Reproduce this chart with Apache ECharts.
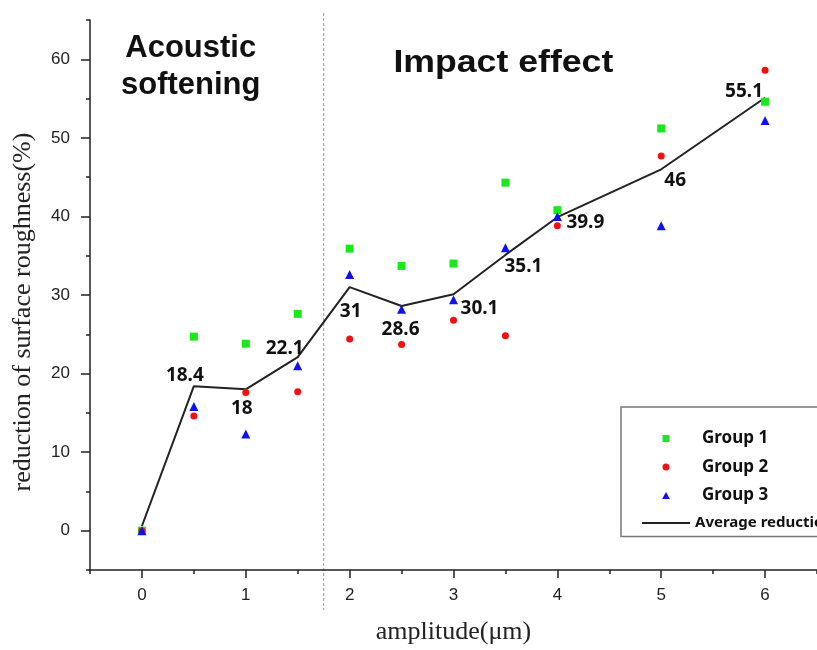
<!DOCTYPE html>
<html>
<head>
<meta charset="utf-8">
<script src="https://cdn.jsdelivr.net/npm/echarts@6/dist/echarts.min.js"></script>
<style>
html, body { margin: 0; padding: 0; background: #fff; }
#chart { width: 817px; height: 650px; }
</style>
</head>
<body>
<div id="chart"></div>
<script>
// amplitude (μm) and reduction of surface roughness (%)
var amplitude = [0, 0.5, 1, 1.5, 2, 2.5, 3, 3.5, 4, 5, 6];
var group1 = [0, 24.7, 23.8, 27.6, 35.9, 33.7, 34.0, 44.3, 40.8, 51.2, 54.6];
var group2 = [0, 14.6, 17.6, 17.7, 24.4, 23.7, 26.8, 24.8, 38.8, 47.7, 58.6];
var group3 = [0, 15.8, 12.3, 21.0, 32.6, 28.2, 29.4, 36.0, 40.0, 38.8, 52.2];
var average = [0.6, 18.4, 18, 22.1, 31, 28.6, 30.1, 35.1, 39.9, 46, 55.1];

var xTicks = [0, 1, 2, 3, 4, 5, 6];
var yTicks = [0, 10, 20, 30, 40, 50, 60];
var regionSplit = 1.75;   // dashed divider between the two regimes

// where each average label sits relative to its point (px)
var avgLabelOffset = [[0, 0], [-9, -11], [-4, 19], [-13, -8], [1, 24], [-1, 24],
                      [26, 14], [18, 12], [28, 5], [14, 11], [-21, -6]];

function pairs(ys) {
    return amplitude.map(function (x, i) { return [x, ys[i]]; });
}

var axisColor = '#222';
var tickFont = { fontFamily: 'Liberation Sans', fontSize: 17, color: '#222' };
var nameFont = { fontFamily: 'Liberation Serif', fontSize: 26, color: '#222' };
var boldFont = 'Noto Sans';

var avgData = amplitude.map(function (x, i) {
    return {
        value: [x, average[i]],
        label: { show: i > 0, offset: avgLabelOffset[i] }
    };
});

var chart = echarts.init(document.getElementById('chart'));

var option = {
    animation: false,
    backgroundColor: '#fff',
    grid: { left: 90, right: -9, top: 20, bottom: 80 },
    legend: {
        orient: 'vertical',
        left: 621,
        top: 407,
        padding: [23, 20, 6, 21],
        itemWidth: 48,
        itemHeight: 7,
        itemGap: 11.5,
        symbolKeepAspect: true,
        borderColor: '#777',
        borderWidth: 1.5,
        textStyle: { fontFamily: boldFont, fontWeight: 'bold', fontSize: 17, color: '#111', lineHeight: 14 },
        data: [
            { name: 'Group 1', icon: 'path://M0,0H10V10H0Z', textStyle: { padding: [0, 0, 0, 7] } },
            { name: 'Group 2', icon: 'circle', textStyle: { padding: [0, 0, 0, 7] } },
            { name: 'Group 3', icon: 'path://M5,0L10,9H0Z', textStyle: { padding: [0, 0, 0, 7] } },
            { name: 'Average reduction', icon: 'path://M0,0H48V2H0Z', textStyle: { fontSize: 15 } }
        ]
    },
    xAxis: [
        {
            type: 'value', min: -0.5, max: 6.5, interval: 0.5,
            axisLine: { onZero: false, lineStyle: { color: axisColor, width: 1.5 } },
            axisTick: { length: 4, lineStyle: { color: axisColor, width: 1.5 } },
            axisLabel: { show: false },
            splitLine: { show: false },
            name: 'amplitude(μm)', nameLocation: 'middle', nameGap: 49,
            nameTextStyle: nameFont
        },
        {
            type: 'value', min: -0.5, max: 6.5, position: 'bottom',
            axisLine: { show: false, onZero: false },
            axisTick: { customValues: xTicks, length: 8, lineStyle: { color: axisColor, width: 1.5 } },
            axisLabel: Object.assign({ customValues: xTicks, margin: 17 }, tickFont),
            splitLine: { show: false }
        }
    ],
    yAxis: [
        {
            type: 'value', min: -5, max: 65, interval: 5,
            axisLine: { show: true, onZero: false, lineStyle: { color: axisColor, width: 1.5 } },
            axisTick: { show: true, length: 4, lineStyle: { color: axisColor, width: 1.5 } },
            axisLabel: { show: false },
            splitLine: { show: false },
            name: 'reduction of surface roughness(%)', nameLocation: 'middle', nameGap: 54,
            nameTextStyle: Object.assign({ padding: [0, 34, 0, 0] }, nameFont)
        },
        {
            type: 'value', min: -5, max: 65, position: 'left',
            axisLine: { show: false, onZero: false },
            axisTick: { show: true, customValues: yTicks, length: 9, lineStyle: { color: axisColor, width: 1.5 } },
            axisLabel: Object.assign({ customValues: yTicks, margin: 20 }, tickFont),
            splitLine: { show: false }
        }
    ],
    series: [
        {
            name: 'Average reduction', type: 'line', z: 2,
            data: avgData,
            symbol: 'circle', symbolSize: 0,
            itemStyle: { color: '#222' },
            lineStyle: { color: '#222', width: 2 },
            label: {
                position: 'inside',
                fontFamily: boldFont, fontWeight: 'bold', fontSize: 19, color: '#111',
                formatter: function (p) { return p.value[1]; }
            },
            silent: true
        },
        {
            name: 'Group 1', type: 'scatter', z: 3,
            data: pairs(group1), symbol: 'rect', symbolSize: 8,
            itemStyle: { color: '#1be81b', opacity: 1 }, silent: true
        },
        {
            name: 'Group 2', type: 'scatter', z: 3,
            data: pairs(group2), symbol: 'circle', symbolSize: 7,
            itemStyle: { color: '#f21010', opacity: 1 }, silent: true
        },
        {
            name: 'Group 3', type: 'scatter', z: 3,
            data: pairs(group3), symbol: 'triangle', symbolSize: 9,
            itemStyle: { color: '#1010f0', opacity: 1 }, silent: true
        }
    ]
};

chart.setOption(option);

// divider and regime titles, placed through the x scale
var splitX = chart.convertToPixel({ xAxisIndex: 0 }, regionSplit);
var leftMid = chart.convertToPixel({ xAxisIndex: 0 }, 0.47);
var rightMid = chart.convertToPixel({ xAxisIndex: 0 }, 3.48);

chart.setOption({
    graphic: [
        {
            type: 'line', silent: true,
            shape: { x1: splitX, y1: 13, x2: splitX, y2: 610 },
            style: { stroke: '#999', lineWidth: 1, lineDash: [3, 2] }
        },
        {
            type: 'text', silent: true, x: leftMid, y: 67,
            style: {
                text: 'Acoustic\nsoftening', align: 'center', verticalAlign: 'middle',
                font: 'bold 31px "Liberation Sans"', lineHeight: 37, fill: '#111'
            }
        },
        {
            type: 'text', silent: true, x: rightMid, y: 63, scaleX: 1.15,
            style: {
                text: 'Impact effect', align: 'center', verticalAlign: 'middle',
                font: 'bold 31px "Liberation Sans"', fill: '#111'
            }
        }
    ]
});
</script>
</body>
</html>
